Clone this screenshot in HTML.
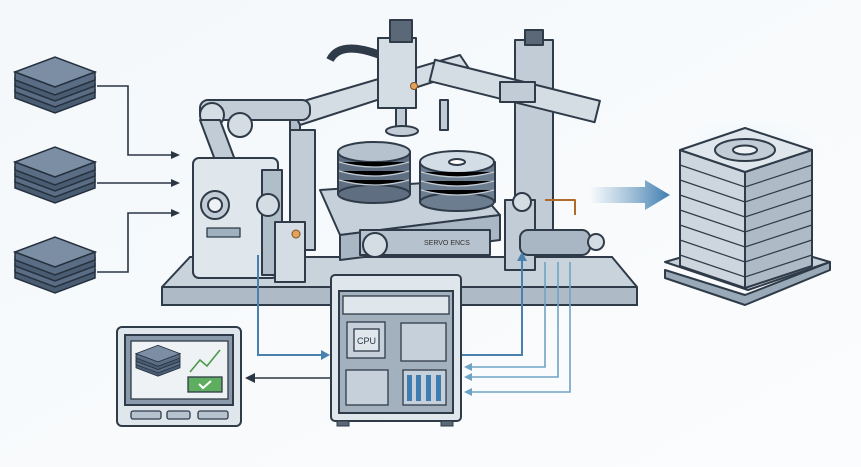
<!DOCTYPE html>
<html><head><meta charset="utf-8"><style>
html,body{margin:0;padding:0;background:#fff}
svg{display:block}
text{font-family:"Liberation Sans",sans-serif}
</style></head><body>
<svg width="861" height="467" viewBox="0 0 861 467" xmlns="http://www.w3.org/2000/svg">
<defs>
<linearGradient id="bg" x1="0" y1="0" x2="1" y2="1"><stop offset="0" stop-color="#f4f8fb"/><stop offset="1" stop-color="#fbfcfd"/></linearGradient>
<linearGradient id="arr" x1="0" x2="1"><stop offset="0" stop-color="#5e93bd" stop-opacity="0"/><stop offset="1" stop-color="#3f7db0"/></linearGradient>
<radialGradient id="glow" cx="0.5" cy="0.5" r="0.5"><stop offset="0" stop-color="#d9ecf8"/><stop offset="1" stop-color="#ffffff" stop-opacity="0"/></radialGradient>
<g id="stack">
<path d="M0 30 L40 45 L80 30 L80 38 L40 53 L0 38Z" fill="#4a5c72" stroke="#26313f" stroke-width="1.5"/>
<path d="M0 24 L40 39 L80 24 L80 32 L40 47 L0 32Z" fill="#5a6d84" stroke="#26313f" stroke-width="1.5"/>
<path d="M0 18 L40 33 L80 18 L80 26 L40 41 L0 26Z" fill="#4a5c72" stroke="#26313f" stroke-width="1.5"/>
<path d="M0 12 L40 27 L80 12 L80 20 L40 35 L0 20Z" fill="#5a6d84" stroke="#26313f" stroke-width="1.5"/>
<path d="M0 12 L40 -3 L80 12 L40 27Z" fill="#7c8ea3" stroke="#26313f" stroke-width="1.5"/>
</g>
</defs>
<rect width="861" height="467" fill="url(#bg)"/>
<use href="#stack" x="15" y="60"/>
<use href="#stack" x="15" y="150"/>
<use href="#stack" x="15" y="240"/>
<g stroke="#2a3644" stroke-width="1.6" fill="none">
<path d="M97 86 H128 V155 H172"/><path d="M97 183 H172"/><path d="M97 272 H128 V213 H172"/>
</g>
<g fill="#2a3644"><path d="M180 155 l-9 -4 v8z"/><path d="M180 183 l-9 -4 v8z"/><path d="M180 213 l-9 -4 v8z"/></g>
<path d="M190 257 H612 L637 287 V305 H162 V287Z" fill="#c9d3dc" stroke="#2f3b48" stroke-width="2"/>
<path d="M162 287 H637" stroke="#2f3b48" stroke-width="2"/>
<rect x="163" y="288" width="473" height="16" fill="#aebbc7"/>
<g stroke="#2f3b48" stroke-width="2" stroke-linejoin="round">
<rect x="515" y="40" width="38" height="215" fill="#c2ccd6"/>
<rect x="525" y="30" width="18" height="15" fill="#5a6878"/>
<path d="M290 105 L460 55 L470 70 L300 125Z" fill="#d4dce4"/>
<path d="M290 105 L300 125 L300 150 L290 140Z" fill="#b0bcc8"/>
<rect x="430" y="80" width="170" height="22" fill="#d4dce4" transform="rotate(14 515 90)"/>
<rect x="500" y="82" width="35" height="20" fill="#c2ccd6"/>
<path d="M330 60 Q340 40 380 55" fill="none" stroke="#2f3b48" stroke-width="8"/>
<rect x="378" y="38" width="38" height="70" fill="#d4dce4"/>
<rect x="390" y="20" width="22" height="22" fill="#5a6878"/>
<circle cx="414" cy="86" r="3.5" fill="#e3a35a" stroke="#7a5225" stroke-width="1"/>
<rect x="396" y="108" width="10" height="20" fill="#c2ccd6"/>
<ellipse cx="402" cy="131" rx="16" ry="5" fill="#c2ccd6"/>
<rect x="440" y="100" width="8" height="30" fill="#c2ccd6"/>
<rect x="200" y="100" width="110" height="20" rx="8" fill="#c2ccd6"/>
<circle cx="212" cy="115" r="12" fill="#d4dce4"/><circle cx="240" cy="125" r="12" fill="#d4dce4"/>
<path d="M200 120 L215 160 L235 160 L220 120Z" fill="#c2ccd6"/>
<rect x="290" y="130" width="25" height="120" fill="#c2ccd6"/>
<path d="M320 190 L470 180 L500 215 L340 235Z" fill="#c6d0da"/>
<path d="M340 235 L500 215 L500 240 L340 260Z" fill="#a9b6c3"/>
<rect x="338" y="152" width="72" height="42" fill="#5f6f81"/>
<ellipse cx="374" cy="194" rx="36" ry="9" fill="#5f6f81"/>
<ellipse cx="374" cy="152" rx="36" ry="10" fill="#b6c2cd"/>
<g stroke="#c2ccd6" stroke-width="1.3"><path d="M339 162 Q374 172 409 162"/><path d="M339 171 Q374 181 409 171"/><path d="M339 180 Q374 190 409 180"/></g>
<rect x="420" y="162" width="75" height="40" fill="#6d7d90"/>
<ellipse cx="457" cy="202" rx="37" ry="9" fill="#6d7d90"/>
<ellipse cx="457" cy="162" rx="37" ry="11" fill="#d3dde6"/>
<ellipse cx="457" cy="162" rx="8" ry="3" fill="#fff"/>
<g stroke="#c2ccd6" stroke-width="1.3"><path d="M421 172 Q457 182 494 172"/><path d="M421 181 Q457 191 494 181"/><path d="M421 190 Q457 200 494 190"/></g>
<rect x="360" y="230" width="130" height="25" fill="#b6c2cd"/>
<circle cx="375" cy="245" r="12" fill="#d4dce4"/>
<rect x="193" y="158" width="85" height="120" rx="6" fill="#dfe6ec"/>
<rect x="262" y="170" width="20" height="105" fill="#b0bec9"/>
<circle cx="215" cy="205" r="14" fill="#c2ccd6"/><circle cx="215" cy="205" r="7" fill="#eef2f5"/>
<rect x="207" y="228" width="33" height="9" fill="#9fb0bf" stroke-width="1.3"/>
<circle cx="268" cy="205" r="11" fill="#d4dce4"/>
<rect x="275" y="222" width="30" height="60" fill="#d4dce4"/>
<circle cx="296" cy="234" r="4" fill="#e3a35a" stroke="#7a5225" stroke-width="1"/>
<rect x="505" y="200" width="30" height="70" fill="#c2ccd6"/>
<rect x="520" y="230" width="70" height="25" rx="8" fill="#a9b6c3"/>
<circle cx="596" cy="242" r="8" fill="#d4dce4"/>
<circle cx="522" cy="202" r="9" fill="#d4dce4"/>
<path d="M545 200 H575 V215" fill="none" stroke="#b06a2a" stroke-width="2"/>
</g>
<text x="424" y="245" font-size="7" fill="#333">SERVO ENCS</text>
<path d="M590 187 H645 V180 L670 195 L645 210 V203 H590Z" fill="url(#arr)"/>
<ellipse cx="750" cy="150" rx="90" ry="40" fill="url(#glow)"/>
<g stroke="#2f3b48" stroke-width="2" stroke-linejoin="round">
<path d="M665 278 L745 305 L830 270 L830 262 L745 295 L665 270Z" fill="#9aa9b8"/>
<path d="M665 262 L748 290 L830 262 L748 238Z" fill="#c6d0da"/>
<path d="M680 150 L745 172 L745 288 L680 266Z" fill="#cdd6df"/>
<path d="M745 172 L812 150 L812 266 L745 288Z" fill="#aebbc7"/>
<path d="M680 150 L745 128 L812 150 L745 172Z" fill="#dfe6ec"/>
<ellipse cx="745" cy="150" rx="30" ry="11" fill="#c2ccd6"/>
<ellipse cx="745" cy="150" rx="12" ry="4.5" fill="#eef2f5"/>
</g>
<g stroke="#2f3b48" stroke-width="1.2" fill="none">
<path d="M680 165 L745 187 L812 165"/><path d="M680 180 L745 202 L812 180"/><path d="M680 195 L745 217 L812 195"/><path d="M680 210 L745 232 L812 210"/><path d="M680 225 L745 247 L812 225"/><path d="M680 240 L745 262 L812 240"/><path d="M680 255 L745 277 L812 255"/>
</g>
<g stroke="#4a80ad" stroke-width="2" fill="none">
<path d="M258 255 V355 H322"/><path d="M458 355 H522 V260"/>
</g>
<g stroke="#6fa3c6" stroke-width="1.6" fill="none">
<path d="M470 367 H545 V262"/><path d="M470 377 H558 V262"/><path d="M470 392 H570 V262"/>
</g>
<g fill="#4a80ad"><path d="M330 355 l-9 -5 v10z"/><path d="M522 252 l-5 9 h10z"/></g>
<g fill="#6fa3c6"><path d="M464 367 l8 -4 v8z"/><path d="M464 377 l8 -4 v8z"/><path d="M464 392 l8 -4 v8z"/></g>
<path d="M330 378 H255" stroke="#2a3644" stroke-width="1.6"/><path d="M245 378 l10 -5 v10z" fill="#2a3644"/>
<g stroke="#2f3b48" stroke-width="2">
<rect x="331" y="275" width="130" height="146" rx="4" fill="#dfe6ec"/>
<rect x="339" y="291" width="114" height="122" fill="#a3b1bf"/>
<rect x="343" y="296" width="106" height="18" fill="#dfe6ec" stroke-width="1.3"/>
<rect x="347" y="322" width="38" height="36" fill="#c6d0da" stroke-width="1.3"/>
<rect x="354" y="329" width="25" height="22" fill="#dfe6ec" stroke-width="1.3"/>
<rect x="401" y="323" width="45" height="38" fill="#c6d0da" stroke-width="1.3"/>
<rect x="346" y="370" width="42" height="35" fill="#c6d0da" stroke-width="1.3"/>
<rect x="403" y="370" width="43" height="35" fill="#c6d0da" stroke-width="1.3"/>
<rect x="337" y="421" width="12" height="5" fill="#5a6878" stroke-width="1"/><rect x="441" y="421" width="12" height="5" fill="#5a6878" stroke-width="1"/>
</g>
<text x="357" y="344" font-size="9" fill="#2a3644">CPU</text>
<g fill="#3f7db0"><rect x="407" y="375" width="5" height="26"/><rect x="416" y="375" width="5" height="26"/><rect x="426" y="375" width="5" height="26"/><rect x="436" y="375" width="5" height="26"/></g>
<g stroke="#2f3b48" stroke-width="2">
<rect x="117" y="327" width="124" height="99" rx="5" fill="#dfe6ec"/>
<rect x="125" y="335" width="108" height="70" fill="#8a9aab"/>
<rect x="131" y="341" width="97" height="58" fill="#eef2f5" stroke-width="1.3"/>
<rect x="131" y="411" width="30" height="8" rx="2" fill="#b6c2cd" stroke-width="1.3"/>
<rect x="167" y="411" width="23" height="8" rx="2" fill="#b6c2cd" stroke-width="1.3"/>
<rect x="198" y="411" width="30" height="8" rx="2" fill="#b6c2cd" stroke-width="1.3"/>
<rect x="188" y="377" width="34" height="15" fill="#5fae5f" stroke-width="1.3"/>
</g>
<path d="M190 372 L200 360 L207 366 L220 350" stroke="#4a9a4a" stroke-width="1.6" fill="none"/>
<path d="M199 384 l4 4 l8 -7" stroke="#fff" stroke-width="2" fill="none"/>
<g transform="translate(136 347) scale(0.55)"><use href="#stack"/></g>
</svg>
</body></html>
